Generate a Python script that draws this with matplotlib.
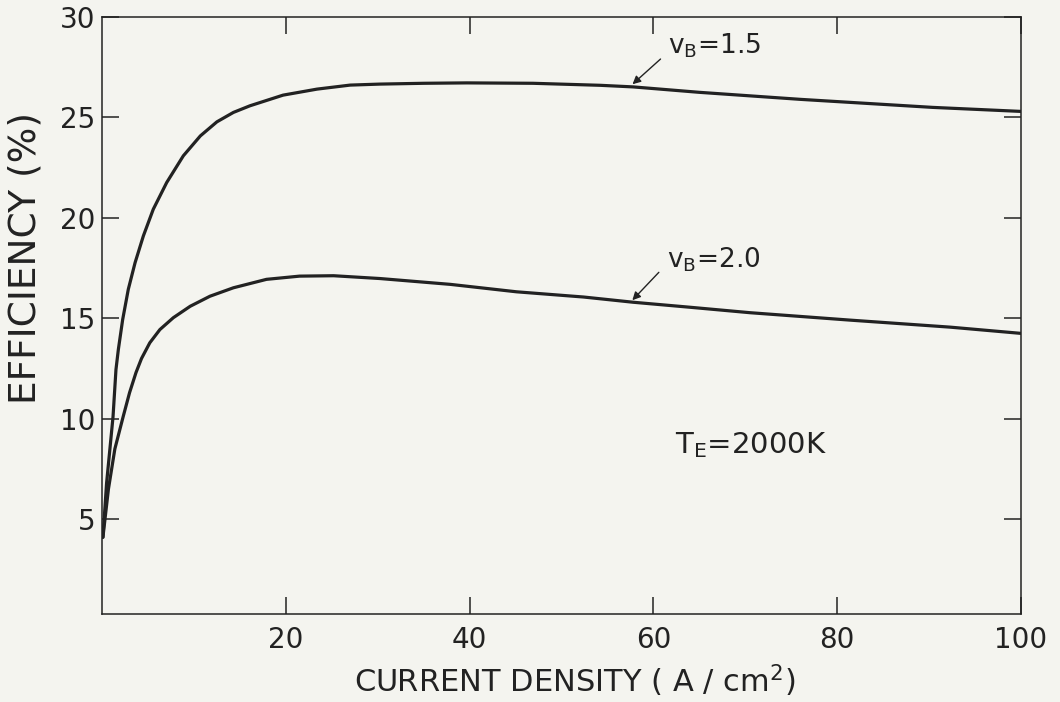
import matplotlib
matplotlib.use("Agg")
import matplotlib.pyplot as plt

# Data
x_vb15 = [0.1, 0.5, 1.2, 1.52, 1.78, 2.25, 2.86, 3.6, 4.5, 5.58, 7.04, 8.85, 10.7, 12.5,
          14.3, 16.1, 19.7, 23.4, 27.0, 30.25, 35.0, 39.7, 46.9, 54.2, 57.8, 65.0,
          76.0, 90.4, 100.0]
y_vb15 = [4.1, 6.8, 10.1, 12.45, 13.45, 14.94, 16.44, 17.77, 19.1, 20.43, 21.76, 23.09,
          24.08, 24.78, 25.25, 25.58, 26.11, 26.41, 26.61, 26.66, 26.7, 26.72, 26.7,
          26.6, 26.52, 26.25, 25.9, 25.5, 25.3]

x_vb20 = [0.1, 0.7, 1.4, 2.3, 3.0, 3.7, 4.3, 5.2, 6.3, 7.76, 9.6, 11.75, 14.3, 17.9,
          21.5, 25.2, 30.25, 37.9, 45.1, 52.4, 57.8, 64.0, 70.5, 81.4, 92.3, 100.0]
y_vb20 = [4.1, 6.5, 8.5, 10.1, 11.3, 12.3, 13.0, 13.78, 14.44, 15.03, 15.6, 16.1,
          16.52, 16.94, 17.1, 17.12, 16.98, 16.69, 16.32, 16.06, 15.8, 15.55, 15.28,
          14.91, 14.56, 14.25]

x_ticks = [20, 40, 60, 80, 100]
x_ticklabels = ["20", "40", "60", "80", "100"]
y_ticks = [5, 10, 15, 20, 25, 30]
y_ticklabels = ["5", "10", "15", "20", "25", "30"]

bg = "#f4f4ef"
ink = "#222222"

fig = plt.figure(figsize=(10.6, 7.02), dpi=100, facecolor=bg)
ax = fig.add_axes([102/1060, 1-614/702, (1021-102)/1060, (614-17)/702])
ax.set_facecolor(bg)

ax.plot(x_vb15, y_vb15, color=ink, lw=2.3, solid_capstyle="round", solid_joinstyle="round")
ax.plot(x_vb20, y_vb20, color=ink, lw=2.3, solid_capstyle="round", solid_joinstyle="round")

ax.set_xlim(0, 100)
ax.set_ylim(0.28, 30)

ax.set_xticks(x_ticks)
ax.set_xticklabels(x_ticklabels)
ax.set_yticks(y_ticks)
ax.set_yticklabels(y_ticklabels)

ax.tick_params(axis="both", direction="in", length=12.5, width=1.1, color=ink,
               labelsize=20, labelcolor=ink)
ax.tick_params(axis="x", top=True, pad=9)
ax.tick_params(axis="y", right=True, pad=5)

for s in ax.spines.values():
    s.set_linewidth(1.1)
    s.set_color(ink)

# annotations
ax.text(61.6, 28.2, r"$\mathregular{v_B}$=1.5", fontsize=19, color=ink,
        ha="left", va="baseline")
ax.annotate("", xy=(57.5, 26.56), xytext=(61.0, 28.0),
            arrowprops=dict(arrowstyle="-|>", color=ink, lw=1.0, mutation_scale=12))

ax.text(61.5, 17.54, r"$\mathregular{v_B}$=2.0", fontsize=19, color=ink,
        ha="left", va="baseline")
ax.annotate("", xy=(57.5, 15.8), xytext=(60.8, 17.39),
            arrowprops=dict(arrowstyle="-|>", color=ink, lw=1.0, mutation_scale=12))

ax.text(62.4, 8.3, r"$\mathregular{T_E}$=2000K", fontsize=21, color=ink,
        ha="left", va="baseline")

fig.text(575/1060, 1-681/702, r"CURRENT DENSITY ( A / cm$^2$)", fontsize=22,
         color=ink, ha="center", va="center")
fig.text(26/1060, 1-258/702, "EFFICIENCY (%)", fontsize=27, rotation=90,
         color=ink, ha="center", va="center")

fig.savefig("out.png", dpi=100, facecolor=bg)
